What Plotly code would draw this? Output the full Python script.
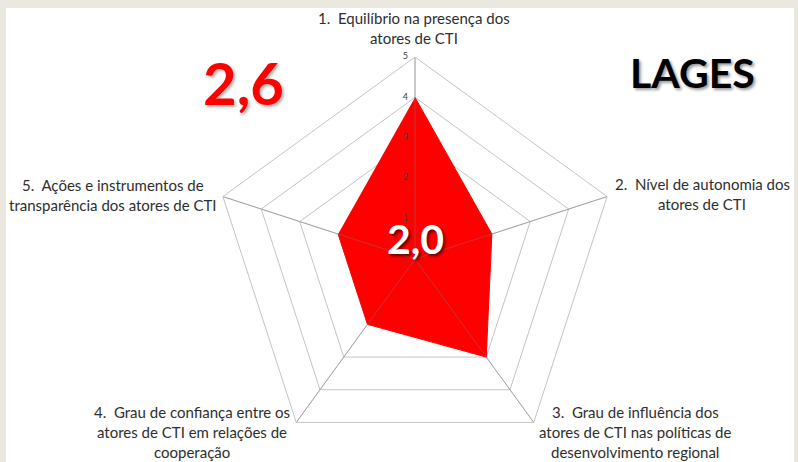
import plotly.graph_objects as go
import numpy as np

categories = [
    "1.  Equilíbrio na presença dos<br>atores de CTI",
    "2.  Nível de autonomia dos<br>atores de CTI",
    "3.  Grau de influência dos<br>atores de CTI nas políticas de<br>desenvolvimento regional",
    "4.  Grau de confiança entre os<br>atores de CTI em relações de<br>cooperação",
    "5.  Ações e instrumentos de<br>transparência dos atores de CTI",
]
values = [4, 2, 3, 2, 2]
radial_ticks = [0, 1, 2, 3, 4, 5]
city = "LAGES"

W, H = 798, 462
mean_txt = f"{np.mean(values):.1f}".replace(".", ",")
median_txt = f"{np.median(values):.1f}".replace(".", ",")

fig = go.Figure()
fig.add_trace(go.Scatterpolar(
    r=values, theta=categories, fill="toself", fillcolor="#ff0000",
    mode="lines", line=dict(color="#ff0000", width=1), hoverinfo="skip",
    showlegend=False,
))
# spokes drawn over the fill
sp_r, sp_t = [], []
for c in categories:
    sp_r += [0, radial_ticks[-1], None]
    sp_t += [c, c, None]
fig.add_trace(go.Scatterpolar(
    r=sp_r, theta=sp_t, mode="lines",
    line=dict(color="rgba(120,120,120,0.45)", width=1),
    hoverinfo="skip", showlegend=False,
))
# radial tick labels along the first axis
fig.add_trace(go.Scatterpolar(
    r=radial_ticks, theta=[categories[0]] * len(radial_ticks), mode="text",
    text=[f"{t}\u00a0\u00a0\u00a0" for t in radial_ticks], textposition="middle left",
    textfont=dict(family="Lato", size=9, color="#404040"),
    hoverinfo="skip", showlegend=False,
))

def px(x):
    return x / W

def py(y):
    return 1 - y / H

cx, cy, R = 415, 259, 202
fig.update_layout(
    width=W, height=H,
    margin=dict(l=0, r=0, t=0, b=0),
    paper_bgcolor="#ebe9df",
    plot_bgcolor="white",
    polar=dict(
        domain=dict(x=[px(cx - R), px(cx + R)], y=[py(cy + R), py(cy - R)]),
        bgcolor="white",
        gridshape="linear",
        radialaxis=dict(
            range=[0, 5], tickvals=radial_ticks, angle=90,
            showticklabels=False, showline=False, ticks="",
            gridcolor="#c4c4c4", gridwidth=1,
        ),
        angularaxis=dict(
            direction="clockwise", rotation=90, showticklabels=False, ticks="",
            gridcolor="#c4c4c4", linecolor="#c4c4c4", linewidth=1, showline=True,
        ),
    ),
    shapes=[dict(type="rect", xref="paper", yref="paper", x0=px(6), x1=px(794),
                 y0=0, y1=py(8), fillcolor="white", line=dict(width=0), layer="below")],
)

label_pos = [
    (414, [18, 38]),
    (702, [184, 204]),
    (635, [412, 432, 452]),
    (192, [412, 432, 452]),
    (113, [185, 205]),
]
for cat, (lx, ys) in zip(categories, label_pos):
    for line, ly in zip(cat.split("<br>"), ys):
        fig.add_annotation(
            x=px(lx), y=py(ly), xref="paper", yref="paper", text=line,
            showarrow=False, xanchor="center", yanchor="middle",
            font=dict(family="Lato", size=15, color="#2e2e2e"),
        )

fig.add_annotation(x=px(243), y=py(83), xref="paper", yref="paper", text=mean_txt,
                   showarrow=False, xanchor="center", yanchor="middle",
                   font=dict(family="Lato", size=58, color="#ff0000", weight="bold",
                             shadow="2px 2px 3px rgba(0,0,0,0.3)"))
fig.add_annotation(x=px(692), y=py(72), xref="paper", yref="paper", text=city,
                   showarrow=False, xanchor="center", yanchor="middle",
                   font=dict(family="Lato", size=41, color="#000000", weight="bold",
                             shadow="2px 2px 3px rgba(0,0,0,0.4)"))
fig.add_annotation(x=px(415), y=py(238), xref="paper", yref="paper", text=median_txt,
                   showarrow=False, xanchor="center", yanchor="middle",
                   font=dict(family="Lato", size=41, color="#ffffff", weight="bold",
                             shadow="2px 2px 3px rgba(0,0,0,0.6)"))

fig.write_html(
    "out.html",
    config={"displayModeBar": False},
    post_script="document.body.style.margin='0';document.body.style.background='#ebe9df';",
)
